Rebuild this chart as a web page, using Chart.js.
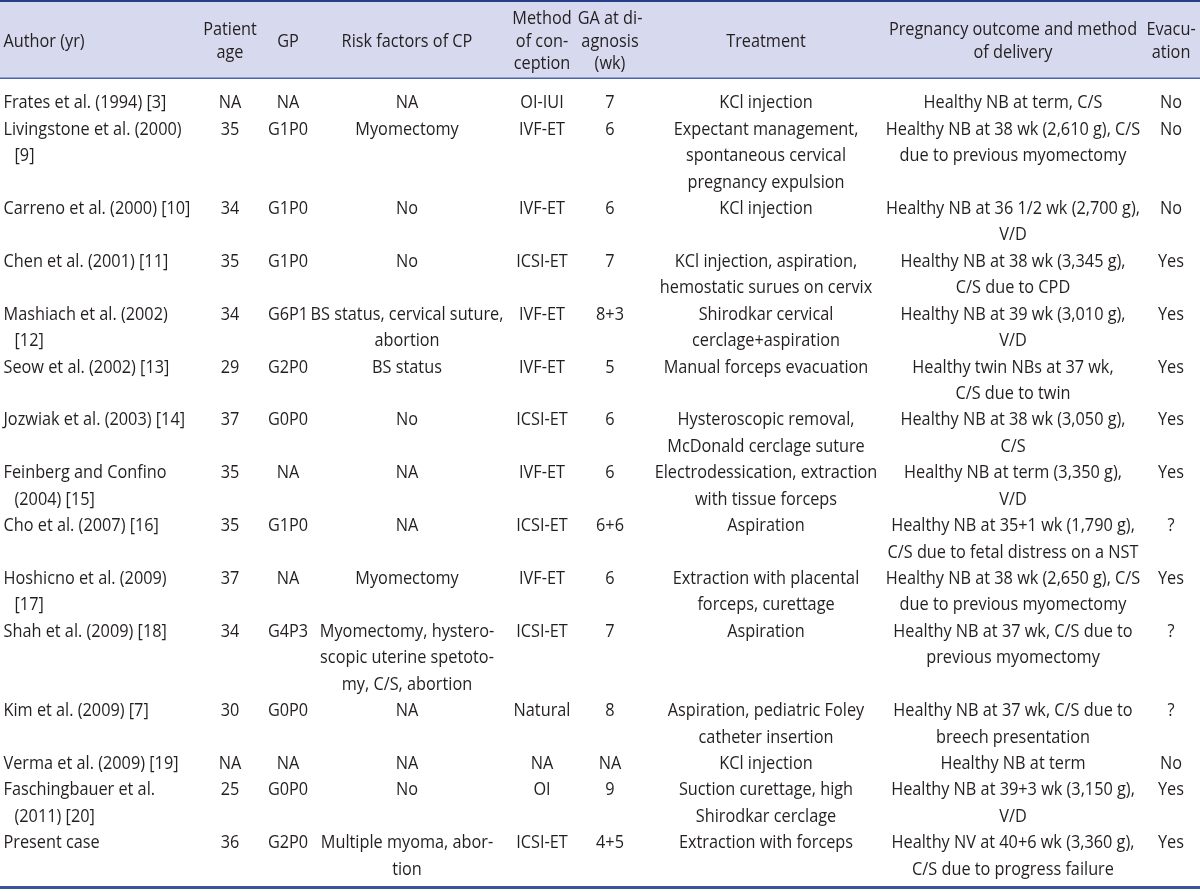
<!DOCTYPE html>
<html>
<head>
<meta charset="utf-8">
<script src="https://cdn.jsdelivr.net/npm/chart.js@4/dist/chart.umd.min.js"></script>
<style>
  html, body { margin: 0; padding: 0; background: #fff; }
  #wrap { width: 1200px; height: 893px; }
</style>
</head>
<body>
<div id="wrap"><canvas id="table" width="1200" height="893"></canvas></div>
<script>
// Table content, one array per column
const headers = ['Author (yr)', 'Patient\nage', 'GP', 'Risk factors of CP', 'Method\nof con-\nception',
  'GA at di-\nagnosis\n(wk)', 'Treatment', 'Pregnancy outcome and method\nof delivery', 'Evacu-\nation'];

const authors = ['Frates et al. (1994) [3]', 'Livingstone et al. (2000)\n[9]', 'Carreno et al. (2000) [10]',
  'Chen et al. (2001) [11]', 'Mashiach et al. (2002)\n[12]', 'Seow et al. (2002) [13]', 'Jozwiak et al. (2003) [14]',
  'Feinberg and Confino\n(2004) [15]', 'Cho et al. (2007) [16]', 'Hoshicno et al. (2009)\n[17]', 'Shah et al. (2009) [18]',
  'Kim et al. (2009) [7]', 'Verma et al. (2009) [19]', 'Faschingbauer et al.\n(2011) [20]', 'Present case'];

const ages = ['NA', '35', '34', '35', '34', '29', '37', '35', '35', '37', '34', '30', 'NA', '25', '36'];

const gp = ['NA', 'G1P0', 'G1P0', 'G1P0', 'G6P1', 'G2P0', 'G0P0', 'NA', 'G1P0', 'NA', 'G4P3', 'G0P0', 'NA', 'G0P0', 'G2P0'];

const riskFactors = ['NA', 'Myomectomy', 'No', 'No', 'BS status, cervical suture,\nabortion', 'BS status', 'No', 'NA', 'NA',
  'Myomectomy', 'Myomectomy, hystero-\nscopic uterine spetoto-\nmy, C/S, abortion', 'NA', 'NA', 'No', 'Multiple myoma, abor-\ntion'];

const methods = ['OI-IUI', 'IVF-ET', 'IVF-ET', 'ICSI-ET', 'IVF-ET', 'IVF-ET', 'ICSI-ET', 'IVF-ET', 'ICSI-ET', 'IVF-ET',
  'ICSI-ET', 'Natural', 'NA', 'OI', 'ICSI-ET'];

const gaWeeks = ['7', '6', '6', '7', '8+3', '5', '6', '6', '6+6', '6', '7', '8', 'NA', '9', '4+5'];

const treatments = ['KCl injection', 'Expectant management,\nspontaneous cervical\npregnancy expulsion', 'KCl injection',
  'KCl injection, aspiration,\nhemostatic surues on cervix', 'Shirodkar cervical\ncerclage+aspiration',
  'Manual forceps evacuation', 'Hysteroscopic removal,\nMcDonald cerclage suture',
  'Electrodessication, extraction\nwith tissue forceps', 'Aspiration', 'Extraction with placental\nforceps, curettage',
  'Aspiration', 'Aspiration, pediatric Foley\ncatheter insertion', 'KCl injection',
  'Suction curettage, high\nShirodkar cerclage', 'Extraction with forceps'];

const outcomes = ['Healthy NB at term, C/S', 'Healthy NB at 38 wk (2,610 g), C/S\ndue to previous myomectomy',
  'Healthy NB at 36 1/2 wk (2,700 g),\nV/D', 'Healthy NB at 38 wk (3,345 g),\nC/S due to CPD',
  'Healthy NB at 39 wk (3,010 g),\nV/D', 'Healthy twin NBs at 37 wk,\nC/S due to twin', 'Healthy NB at 38 wk (3,050 g),\nC/S',
  'Healthy NB at term (3,350 g),\nV/D', 'Healthy NB at 35+1 wk (1,790 g),\nC/S due to fetal distress on a NST',
  'Healthy NB at 38 wk (2,650 g), C/S\ndue to previous myomectomy', 'Healthy NB at 37 wk, C/S due to\nprevious myomectomy',
  'Healthy NB at 37 wk, C/S due to\nbreech presentation', 'Healthy NB at term', 'Healthy NB at 39+3 wk (3,150 g),\nV/D',
  'Healthy NV at 40+6 wk (3,360 g),\nC/S due to progress failure'];

const evacuation = ['No', 'No', 'No', 'Yes', 'Yes', 'Yes', 'Yes', 'Yes', '?', 'Yes', '?', '?', 'No', 'Yes', 'Yes'];

const columns = [authors, ages, gp, riskFactors, methods, gaWeeks, treatments, outcomes, evacuation];

// Layout (x in page px, y in body line units)
const COL_X = [3.5, 230, 288, 407, 542, 610, 766, 1013, 1171];
const COL_ALIGN = ['left', 'center', 'center', 'center', 'center', 'center', 'center', 'center', 'center'];
const FIRST_LINE_Y = 101.7, LINE_H = 26.43, HEADER_LINE_H = 22.5, HEADER_MID = 40;
const HEADER_BOTTOM = 78, TABLE_BOTTOM = 887;
const FONT = '18.5px "Open Sans"', SCALE_X = 0.88, CAP_HALF = 6.6, INDENT = 11;
const TEXT = '#231f20';

// each row starts after the tallest cell of the previous row
const lineCount = s => s.split('\n').length;
const rowStart = [];
let acc = 0;
authors.forEach((_, r) => {
  rowStart.push(acc);
  acc += Math.max(...columns.map(col => lineCount(col[r])));
});

const cells = [];
columns.forEach((col, c) => col.forEach((txt, r) => {
  cells.push({ x: COL_X[c], y: rowStart[r], text: txt, col: c });
}));

function drawText(ctx, str, x, y, align) {
  ctx.save();
  ctx.translate(x, y);
  ctx.scale(SCALE_X, 1);
  ctx.textAlign = align;
  ctx.textBaseline = 'alphabetic';
  ctx.fillText(str, 0, 0);
  ctx.restore();
}

const tablePlugin = {
  id: 'tableCells',
  afterDraw(chart) {
    const ctx = chart.ctx;
    const xs = chart.scales.x, ys = chart.scales.y;
    const left = xs.getPixelForValue(0), right = xs.getPixelForValue(1200);
    const top = chart.chartArea.top;

    // header band and rules
    ctx.fillStyle = '#d7daee';
    ctx.fillRect(left, top, right - left, HEADER_BOTTOM);
    ctx.fillStyle = '#233f86';
    ctx.fillRect(left, top, right - left, 2);
    ctx.fillStyle = '#4a64a8';
    ctx.fillRect(left, top + HEADER_BOTTOM - 0.5, right - left, 1.5);
    ctx.fillStyle = '#3b5499';
    ctx.fillRect(left, top + TABLE_BOTTOM - 1, right - left, 3);

    ctx.font = FONT;
    ctx.fillStyle = TEXT;
    headers.forEach((h, c) => {
      const lines = h.split('\n');
      const y0 = top + HEADER_MID - (lines.length - 1) * HEADER_LINE_H / 2;
      lines.forEach((ln, j) => {
        drawText(ctx, ln, xs.getPixelForValue(COL_X[c]), y0 + j * HEADER_LINE_H + CAP_HALF, COL_ALIGN[c]);
      });
    });

    // body cells, placed at their scatter points
    const meta = chart.getDatasetMeta(0);
    meta.data.forEach((pt, i) => {
      const cell = cells[i];
      cell.text.split('\n').forEach((ln, j) => {
        const y = ys.getPixelForValue(cell.y + j) + CAP_HALF;
        const x = pt.x + (cell.col === 0 && j > 0 ? INDENT : 0);
        drawText(ctx, ln, x, y, COL_ALIGN[cell.col]);
      });
    });
  }
};

new Chart(document.getElementById('table'), {
  type: 'scatter',
  data: { datasets: [{ data: cells, pointRadius: 0, pointHoverRadius: 0 }] },
  options: {
    responsive: false,
    animation: false,
    events: [],
    layout: { padding: 0 },
    plugins: { legend: { display: false }, tooltip: { enabled: false } },
    scales: {
      x: { type: 'linear', display: false, min: 0, max: 1200 },
      y: { type: 'linear', display: false, reverse: true,
           min: -FIRST_LINE_Y / LINE_H, max: (893 - FIRST_LINE_Y) / LINE_H }
    }
  },
  plugins: [tablePlugin]
});
</script>
</body>
</html>
